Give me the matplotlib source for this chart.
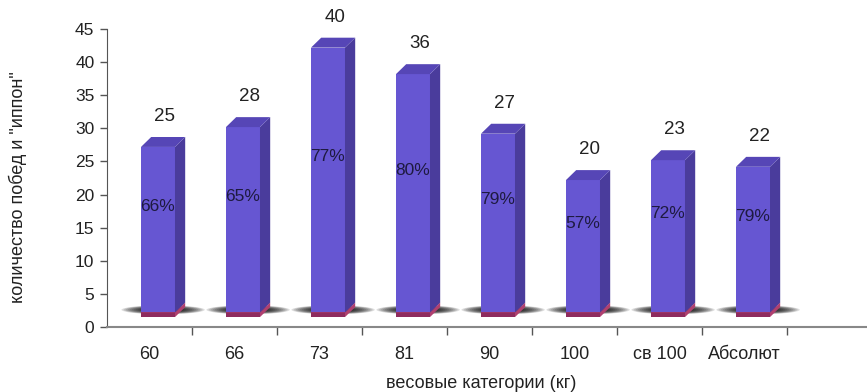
import matplotlib.pyplot as plt
import numpy as np
from matplotlib.patches import Polygon, Ellipse

plt.rcParams['font.family'] = ['Liberation Sans', 'DejaVu Sans']

# Data
categories = ['60', '66', '73', '81', '90', '100', 'св 100', 'Абсолют']
wins = [25, 28, 40, 36, 27, 20, 23, 22]
ippon_pct = ['66%', '65%', '77%', '80%', '79%', '57%', '72%', '79%']
lower_seg = [0.7, 0.7, 0.7, 0.7, 0.7, 0.7, 0.7, 0.7]

# 3D look settings
floor = 1.5          # raised floor of the 3D chart
bar_w = 0.4
shift = 0.1          # front face offset from category centre
dx, dy = 0.12, 1.5   # depth of the extrusion (data units)

front_col = '#6656D2'
side_col = '#4A3C9C'
top_col = '#5646B6'
pink_front = '#8E2B5E'
pink_side = '#B0406F'

fig = plt.figure(figsize=(8.67, 3.92), dpi=100)
ax = fig.add_axes([0.1234, 0.1658, 0.8766, 0.760])

x = np.arange(len(categories)) + 0.5
left = x + shift - bar_w / 2


def box(ax, x0, y0, h, fc, sc, tc, z):
    # front, right side and top faces of one block
    ax.add_patch(Polygon([(x0, y0), (x0 + bar_w, y0), (x0 + bar_w, y0 + h), (x0, y0 + h)],
                         closed=True, fc=fc, ec='none', zorder=z))
    ax.add_patch(Polygon([(x0 + bar_w, y0), (x0 + bar_w + dx, y0 + dy),
                          (x0 + bar_w + dx, y0 + h + dy), (x0 + bar_w, y0 + h)],
                         closed=True, fc=sc, ec='none', zorder=z))
    ax.add_patch(Polygon([(x0, y0 + h), (x0 + bar_w, y0 + h),
                          (x0 + bar_w + dx, y0 + h + dy), (x0 + dx, y0 + h + dy)],
                         closed=True, fc=tc, ec='none', zorder=z))


for i in range(len(categories)):
    # soft shadow on the floor, built from stacked faint ellipses
    cx = left[i] + (bar_w + dx) / 2
    for s in np.linspace(1.0, 0.35, 14):
        ax.add_patch(Ellipse((cx, floor + 1.1), 0.98 * s, 1.35 * s,
                             fc='black', ec='none', alpha=0.13, zorder=2))
    box(ax, left[i], floor, lower_seg[i], pink_front, pink_side, pink_side, 3)
    box(ax, left[i], floor + lower_seg[i], wins[i], front_col, side_col, top_col, 4)

    top = floor + lower_seg[i] + wins[i]
    ax.text(left[i] + bar_w / 2 + 0.08, top + 4.6, str(wins[i]),
            ha='center', va='center', fontsize=13.5, color='#222222', zorder=5)
    ax.text(left[i] + bar_w / 2, floor + lower_seg[i] + wins[i] / 2 + 3.5, ippon_pct[i],
            ha='center', va='center', fontsize=12.5, color='#1e1a40', zorder=5)

ax.set_xlim(0, 760 / 85)
ax.set_ylim(0, 45)
ax.set_yticks(np.arange(0, 46, 5))
ax.set_xticks(np.arange(1, len(categories) + 1))
ax.set_xticklabels([])
ax.set_xticks(x, minor=True)
ax.set_xticklabels(categories, minor=True)
ax.tick_params(axis='x', which='minor', length=0, pad=14, labelsize=13, labelcolor='#222222')
ax.tick_params(axis='x', which='major', length=6, width=1, color='#555555', direction='out')
ax.tick_params(axis='y', length=5, width=1, color='#555555', labelsize=12.5,
               labelcolor='#222222', pad=4)

for side in ['top', 'right']:
    ax.spines[side].set_visible(False)
ax.spines['left'].set_color('#555555')
ax.spines['bottom'].set_color('#888888')
ax.spines['bottom'].set_linewidth(1.5)

ax.set_ylabel('количество побед и "иппон"', fontsize=13, color='#222222')
ax.yaxis.set_label_coords(-0.117, 0.47)
ax.yaxis.label.set_va('center')
ax.set_xlabel('весовые категории (кг)', fontsize=13, color='#222222')
ax.xaxis.set_label_coords(0.493, -0.188)
ax.xaxis.label.set_va('center')

fig.savefig('out.png', dpi=100)
